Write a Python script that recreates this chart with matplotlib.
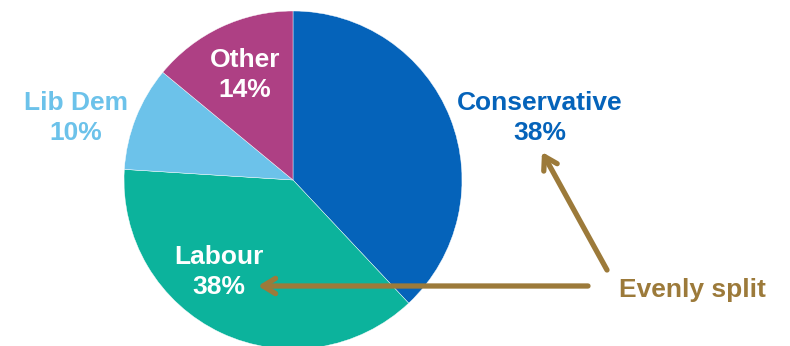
import matplotlib.pyplot as plt

# data
parties = ['Conservative', 'Labour', 'Lib Dem', 'Other']
shares = [38, 38, 10, 14]
colors = ['#0563BA', '#0CB39C', '#6CC2EA', '#AE4084']
label_colors = ['#0563BA', 'white', '#6CC2EA', 'white']
# label positions in pixel space (x, y from top)
label_pos = [(540, 118), (219, 272), (76, 118), (245, 75)]

arrow_col = '#9C7A3A'

plt.rcParams['font.family'] = ['Liberation Sans', 'DejaVu Sans']

fig = plt.figure(figsize=(7.9, 3.46), dpi=100)
ax = fig.add_axes([0, 0, 1, 1])
ax.axis('off')

H = 346
ax.pie(shares, colors=colors, startangle=90, counterclock=False,
       center=(293, H - 180), radius=169,
       wedgeprops={'linewidth': 0.3, 'edgecolor': 'white'})
ax.set_xlim(0, 790)
ax.set_ylim(0, 346)
ax.set_aspect('equal')

for name, val, c, (x, y) in zip(parties, shares, label_colors, label_pos):
    ax.text(x, H - y, f'{name}\n{val}%', color=c, fontsize=19,
            fontweight='bold', ha='center', va='center', linespacing=1.35)

ax.text(692, H - 290, 'Evenly split', color=arrow_col, fontsize=19,
        fontweight='bold', ha='center', va='center')

arrow_kw = dict(arrowstyle='->,head_length=0.9,head_width=0.55',
                color=arrow_col, lw=3.8, shrinkA=0, shrinkB=0)
ax.annotate('', xy=(542, H - 152), xytext=(607, H - 270), arrowprops=arrow_kw)
ax.annotate('', xy=(258, H - 286), xytext=(588, H - 286), arrowprops=arrow_kw)

fig.savefig('out.png', dpi=100)
